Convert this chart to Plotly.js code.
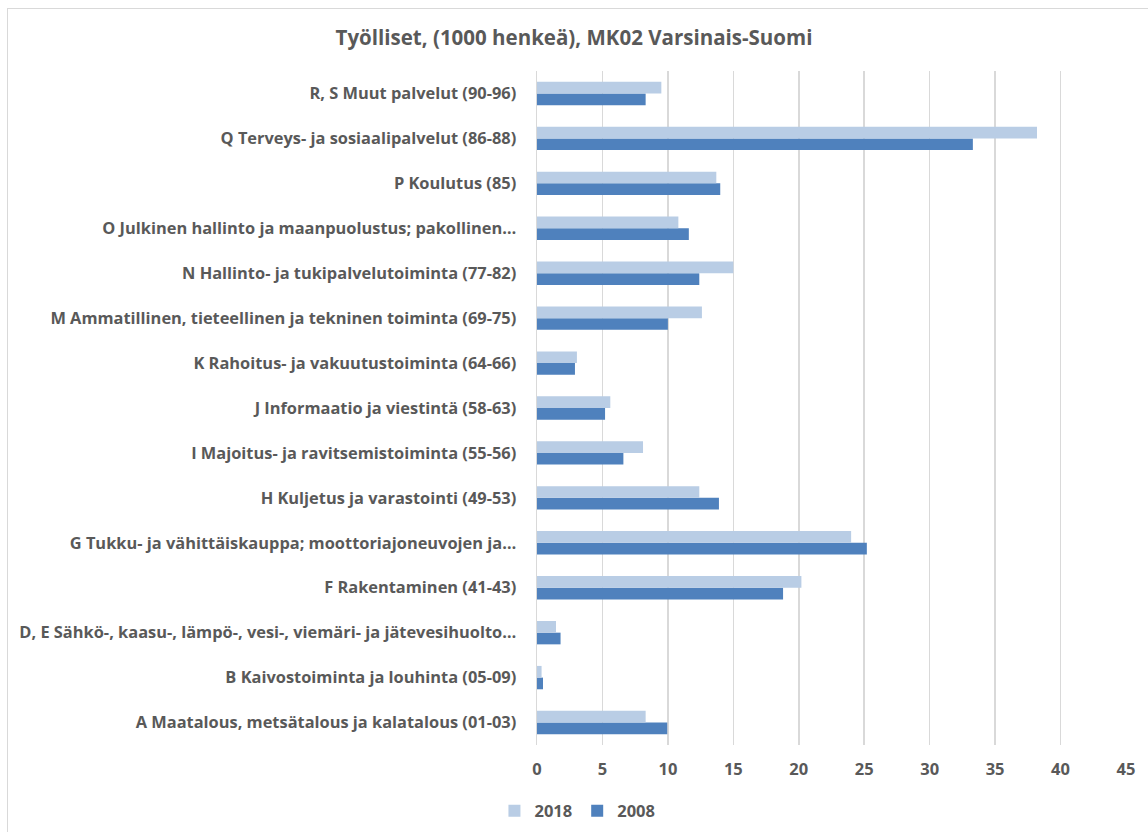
<!DOCTYPE html>
<html>
<head>
<meta charset="utf-8">
<script src="https://cdn.plot.ly/plotly-3.0.1.min.js"></script>
<style>
  html, body { margin: 0; padding: 0; background: #fff; }
  #wrap { position: relative; width: 1148px; height: 832px; overflow: hidden; }
  #chart { width: 1148px; height: 832px; }
  #frame { position: absolute; left: 7px; top: 8px; width: 1200px; height: 900px;
           border: 1px solid #D9D9D9; pointer-events: none; }
</style>
</head>
<body>
<div id="wrap">
  <div id="chart"></div>
  <div id="frame"></div>
</div>
<script>
const categories = [
  "A Maatalous, metsätalous ja kalatalous (01-03)",
  "B Kaivostoiminta ja louhinta (05-09)",
  "D, E Sähkö-, kaasu-, lämpö-, vesi-, viemäri- ja jätevesihuolto…",
  "F Rakentaminen (41-43)",
  "G Tukku- ja vähittäiskauppa; moottoriajoneuvojen ja…",
  "H Kuljetus ja varastointi (49-53)",
  "I Majoitus- ja ravitsemistoiminta (55-56)",
  "J Informaatio ja viestintä (58-63)",
  "K Rahoitus- ja vakuutustoiminta (64-66)",
  "M Ammatillinen, tieteellinen ja tekninen toiminta (69-75)",
  "N Hallinto- ja tukipalvelutoiminta (77-82)",
  "O Julkinen hallinto ja maanpuolustus; pakollinen…",
  "P Koulutus (85)",
  "Q Terveys- ja sosiaalipalvelut (86-88)",
  "R, S Muut palvelut (90-96)"
];
const values2018 = [8.3, 0.35, 1.45, 20.2, 24.0, 12.4, 8.1, 5.6, 3.05, 12.6, 15.0, 10.8, 13.7, 38.2, 9.5];
const values2008 = [9.95, 0.46, 1.8, 18.8, 25.2, 13.9, 6.6, 5.2, 2.9, 10.0, 12.4, 11.6, 14.0, 33.3, 8.3];
const xTicks = [0, 5, 10, 15, 20, 25, 30, 35, 40, 45];

const textColor = "#595959";
const fontFamily = "'Open Sans', 'Noto Sans', sans-serif";

const traces = [
  {
    type: "bar", orientation: "h", name: "2008",
    y: categories, x: values2008,
    marker: { color: "#4F81BD", line: { width: 0 } },
    hoverinfo: "skip"
  },
  {
    type: "bar", orientation: "h", name: "2018",
    y: categories, x: values2018,
    marker: { color: "#B9CDE5", line: { width: 0 } },
    hoverinfo: "skip"
  }
];

const layout = {
  width: 1148, height: 832,
  paper_bgcolor: "#fff", plot_bgcolor: "#fff",
  margin: { l: 537, r: 22, t: 71, b: 87 },
  barmode: "group", bargap: 0.48, bargroupgap: 0,
  title: {
    text: "Työlliset, (1000 henkeä), MK02 Varsinais-Suomi",
    font: { family: fontFamily, size: 20.5, color: textColor, weight: "bold" },
    x: 0.5, xref: "container", xanchor: "center",
    y: 1 - 38 / 832, yref: "container", yanchor: "middle"
  },
  font: { family: fontFamily, color: textColor },
  xaxis: {
    range: [0, 45], tickvals: xTicks, ticktext: xTicks.map(String),
    showgrid: true, gridcolor: "#D9D9D9", gridwidth: 1.5,
    zeroline: false, showline: false, ticks: "",
    tickfont: { family: fontFamily, size: 16.5, color: textColor, weight: "bold" },
    ticklabelstandoff: 12,
    fixedrange: true
  },
  yaxis: {
    type: "category", categoryorder: "array", categoryarray: categories,
    showgrid: false, zeroline: false, automargin: false,
    showline: true, linecolor: "#D9D9D9", linewidth: 1.5,
    ticks: "", ticklabelstandoff: 16,
    tickfont: { family: fontFamily, size: 16.4, color: textColor, weight: "bold" },
    fixedrange: true
  },
  showlegend: true,
  legend: {
    orientation: "h", traceorder: "reversed",
    xref: "container", yref: "container",
    x: 0.503, xanchor: "center", y: 1 - 811 / 832, yanchor: "middle",
    font: { family: fontFamily, size: 16.5, color: textColor, weight: "bold" },
    itemwidth: 30
  }
};

Plotly.newPlot("chart", traces, layout, { displayModeBar: false, staticPlot: true });
</script>
</body>
</html>
